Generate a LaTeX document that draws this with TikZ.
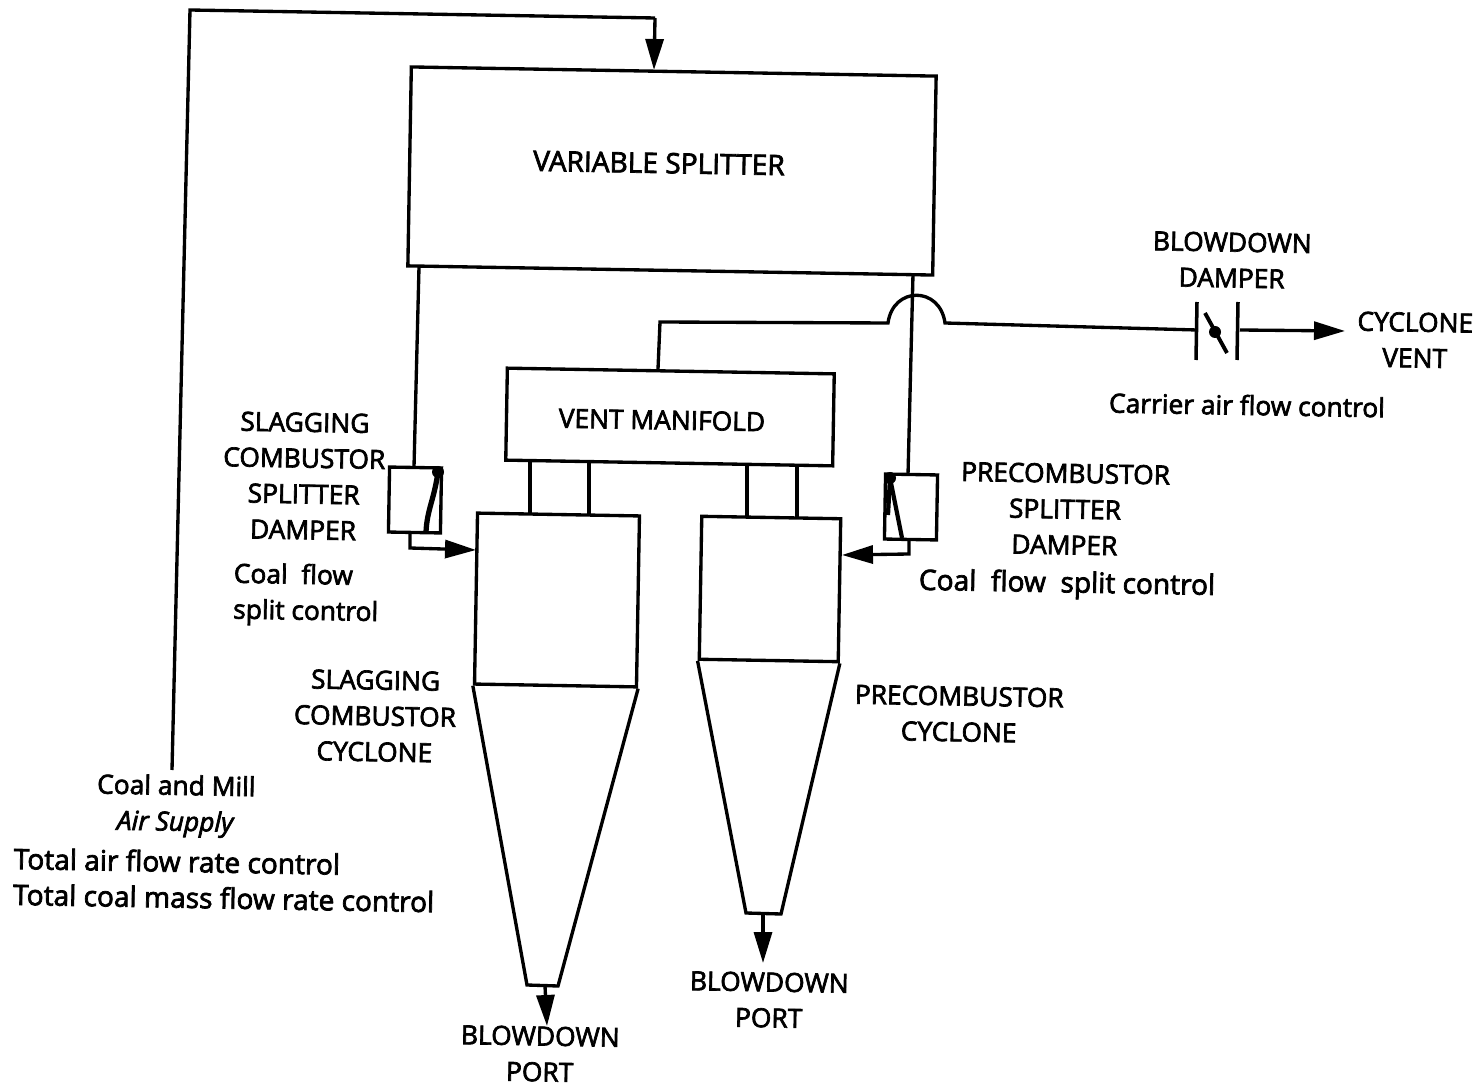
\documentclass[tikz,border=0pt]{standalone}
\usepackage{fontspec}
\setmainfont{Open Sans}[RawFeature={embolden=2.6}]
\usetikzlibrary{arrows.meta}
\tikzset{
  flow/.style={line width=1.9pt,line join=miter},
  feed/.style={flow,-{Stealth[length=0.62cm,width=0.36cm,inset=0pt]}},
  boxnode/.style={draw,line width=1.9pt,rotate=-1,inner sep=0pt},
  lbl/.style={font=\fontsize{15}{20.4}\selectfont,align=center,rotate=-1,inner sep=0pt},
  widelbl/.style={lbl,font=\fontsize{16}{20.4}\selectfont},
}
\begin{document}
\begin{tikzpicture}[x=0.02cm,y=-0.02cm]
  \useasboundingbox (0,0) rectangle (1481,1087);
  % boxes
  \node[boxnode,minimum width=10.5cm,minimum height=3.98cm] (splitter) at (672,171) {};
  \node[boxnode,minimum width=6.54cm,minimum height=1.84cm] (manifold) at (670,417) {};
  \node[boxnode,minimum width=3.24cm,minimum height=3.42cm] (slagbody) at (557,600) {};
  \node[boxnode,minimum width=2.78cm,minimum height=2.86cm] (prebody) at (770,589) {};
  \node[boxnode,minimum width=1.04cm,minimum height=1.3cm] (slagdamper) at (415,500) {};
  \node[boxnode,minimum width=1.04cm,minimum height=1.3cm] (predamper) at (911,507) {};
  % cones
  \coordinate (slagtipl) at (527,985);
  \coordinate (slagtipr) at (558,986);
  \coordinate (pretipl) at (746,913);
  \coordinate (pretipr) at (781,914);
  \draw[flow] (slagbody.south west)--(slagtipl)--(slagtipr)--(slagbody.south east);
  \draw[flow] (prebody.south west)--(pretipl)--(pretipr)--(prebody.south east);
  % coal feed
  \coordinate (supply) at (172,770);
  \coordinate (feedcorner) at (190,10);
  \coordinate (feedturn) at (655,18);
  \coordinate (feedin) at (654,70);
  \draw[flow] (supply)--(feedcorner)--(feedturn);
  \draw[feed] (feedturn)--(feedin);
  % splitter legs
  \coordinate (legla) at (419,267);
  \coordinate (leglb) at (414,467);
  \coordinate (legra) at (913,274);
  \coordinate (legrb) at (908,475);
  \draw[flow] (legla)--(leglb);
  \draw[flow] (legra)--(legrb);
  % outlets of the dampers
  \coordinate (outla) at (410,533);
  \coordinate (outlb) at (410,548);
  \coordinate (outlc) at (476,550);
  \coordinate (outra) at (909,540);
  \coordinate (outrb) at (909,554);
  \coordinate (outrc) at (842,555);
  \draw[feed] (outla)--(outlb)--(outlc);
  \draw[feed] (outra)--(outrb)--(outrc);
  % blades
  \coordinate (bladel) at (438,472);
  \coordinate (blader) at (890,478);
  \fill (bladel) circle (6);
  \fill (blader) circle (6);
  \draw[line width=3pt] (bladel) .. controls (434,500) and (427,510) .. (426,532);
  \draw[line width=2.4pt] (blader)--(902,538);
  \draw[line width=2.4pt] (blader)--(888,515);
  % stubs
  \foreach \xa/\xb/\ya/\yb in {530/530/460/513,589/589/461/514,747/747/466/517,797/797/467/518}
    \draw[flow] (\xa,\ya)--(\xb,\yb);
  % vent line
  \coordinate (venta) at (658,369);
  \coordinate (ventb) at (660,322);
  \coordinate (humpa) at (888,323);
  \coordinate (humpb) at (945,323);
  \coordinate (ventc) at (1197,330);
  \draw[flow] (venta)--(ventb)--(humpa) .. controls (893,286) and (940,286) .. (humpb)--(ventc);
  % blowdown damper
  \coordinate (platela) at (1197,302);
  \coordinate (platelb) at (1196,360);
  \coordinate (platera) at (1238,302);
  \coordinate (platerb) at (1237,360);
  \draw[line width=2pt] (platela)--(platelb);
  \draw[line width=2pt] (platera)--(platerb);
  \draw[line width=2.2pt] (1205,313)--(1227,353);
  \fill (1215,332) circle (6);
  \coordinate (ventout) at (1240,330);
  \coordinate (venttip) at (1345,331);
  \draw[feed] (ventout)--(venttip);
  % blowdown ports
  \coordinate (portla) at (545,986);
  \coordinate (portlb) at (547,1026);
  \coordinate (portra) at (763,915);
  \coordinate (portrb) at (763,963);
  \draw[feed] (portla)--(portlb);
  \draw[feed] (portra)--(portrb);
  % labels
  \node[widelbl] (tsplit) at (659,163) {VARIABLE SPLITTER};
  \node[lbl] (tmanifold) at (662,420) {VENT MANIFOLD};
  \node[lbl] (tblow) at (1232,260) {BLOWDOWN\\DAMPER};
  \node[lbl] (tvent) at (1415,340) {CYCLONE\\VENT};
  \node[lbl] (tcarrier) at (1247,405) {Carrier air flow control};
  \node[lbl] (tslagd) at (304,476) {SLAGGING\\COMBUSTOR\\SPLITTER\\DAMPER};
  \node[lbl,align=left] (tslagc) at (306,595) {Coal\ \ flow\\split control};
  \node[lbl] (tslagz) at (375,716) {SLAGGING\\COMBUSTOR\\CYCLONE};
  \node[lbl] (tpred) at (1065,509) {PRECOMBUSTOR\\SPLITTER\\DAMPER};
  \node[widelbl] (tprec) at (1067,585) {Coal\ \ flow\ \ split control};
  \node[lbl] (tprez) at (959,714) {PRECOMBUSTOR\\CYCLONE};
  \node[lbl] (tcoal) at (176,806) {Coal and Mill\\\textit{Air Supply}};
  \node[widelbl,align=left] (ttotal) at (224,880) {Total air flow rate control\\Total coal mass flow rate control};
  \node[lbl] (tportl) at (540,1054) {BLOWDOWN\\PORT};
  \node[lbl] (tportr) at (769,1000) {BLOWDOWN\\PORT};
\end{tikzpicture}
\end{document}
